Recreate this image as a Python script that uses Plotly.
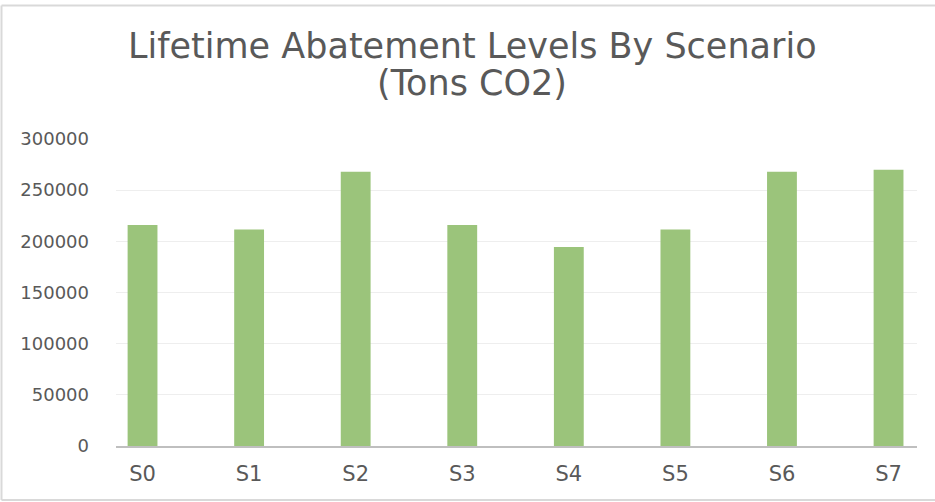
import plotly.graph_objects as go

categories = ["S0", "S1", "S2", "S3", "S4", "S5", "S6", "S7"]
abatement = [216000, 211500, 268000, 216000, 194500, 211500, 268000, 270000]
y_ticks = [0, 50000, 100000, 150000, 200000, 250000, 300000]
title_lines = ["Lifetime Abatement Levels By Scenario", "(Tons CO2)"]

W, H = 935, 502
L, R, T, B = 116, 18, 139, 56
pw, ph = W - L - R, H - T - B
FONT = "DejaVu Sans"
GREY = "#595959"

def px(x):
    return (x - L) / pw

def py(y):
    return (H - B - y) / ph

fig = go.Figure()
fig.add_trace(go.Bar(
    x=categories, y=abatement,
    marker=dict(color="#9bc47b", line=dict(width=0)),
    width=0.28,
))

annotations = [
    dict(text=title_lines[0], xref="paper", yref="paper",
         x=px(472), y=py(46), xanchor="center", yanchor="middle",
         showarrow=False, font=dict(family=FONT, size=35, color=GREY)),
    dict(text=title_lines[1], xref="paper", yref="paper",
         x=px(472), y=py(83), xanchor="center", yanchor="middle",
         showarrow=False, font=dict(family=FONT, size=35, color=GREY)),
]

fig.update_layout(
    width=W, height=H,
    margin=dict(l=L, r=R, t=T, b=B),
    paper_bgcolor="white", plot_bgcolor="white",
    showlegend=False,
    font=dict(family=FONT, color=GREY),
    annotations=annotations,
    xaxis=dict(
        type="category",
        range=[-0.249, 7.267],
        showgrid=False,
        showline=True, linecolor="#bfbfbf", linewidth=1.5,
        ticks="", ticklabelstandoff=8,
        tickfont=dict(family=FONT, size=21, color=GREY),
    ),
    yaxis=dict(
        range=[0, 300000],
        tickvals=y_ticks,
        ticktext=[str(v) for v in y_ticks],
        showgrid=True, gridcolor="#eeeeee", gridwidth=1,
        zeroline=False, showline=False,
        ticks="", ticklabelstandoff=26,
        tickfont=dict(family=FONT, size=18, color=GREY),
    ),
    shapes=[
        dict(type="line", xref="paper", yref="paper",
             x0=px(1.5), x1=px(935), y0=py(5.5), y1=py(5.5),
             line=dict(color="#d9d9d9", width=2)),
        dict(type="line", xref="paper", yref="paper",
             x0=px(1.5), x1=px(1.5), y0=py(5.5), y1=py(500),
             line=dict(color="#d9d9d9", width=2)),
        dict(type="line", xref="paper", yref="paper",
             x0=px(1.5), x1=px(935), y0=py(500), y1=py(500),
             line=dict(color="#d9d9d9", width=2)),
    ],
)

fig.write_html("out.html")
